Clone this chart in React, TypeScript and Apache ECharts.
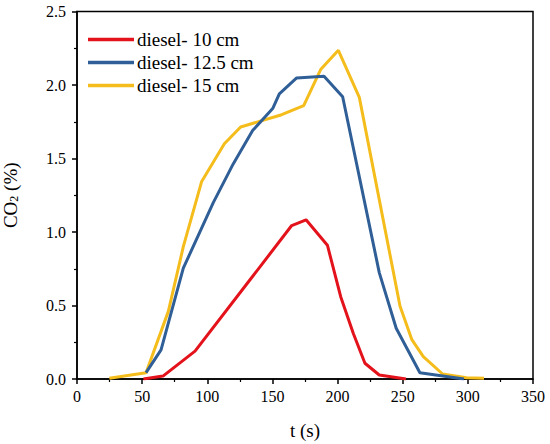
import React, { useEffect, useRef } from "react";
import * as echarts from "echarts";

const seriesNames = ["diesel- 10 cm", "diesel- 12.5 cm", "diesel- 15 cm"];
const seriesColors = ["#E3121B", "#2F5F96", "#F4BD1C"];

// [t (s), CO2 (%)]
const diesel10: [number, number][] = [
  [51, 0.0], [66, 0.02], [90.6, 0.19], [132.8, 0.675], [164.8, 1.044],
  [175.8, 1.083], [192.2, 0.91], [202.4, 0.56], [212.1, 0.31],
  [221, 0.107], [232, 0.027], [252.5, 0.0],
];
const diesel125: [number, number][] = [
  [53, 0.043], [64.5, 0.198], [81.6, 0.754], [104.6, 1.2], [120, 1.465],
  [134.8, 1.69], [150.2, 1.84], [155.3, 1.94], [168.6, 2.048],
  [189.6, 2.06], [203.9, 1.92], [232, 0.724], [245, 0.345],
  [263.2, 0.043], [297, 0.0],
];
const diesel15: [number, number][] = [
  [24.8, 0.005], [53, 0.043], [70.1, 0.46], [81.6, 0.9], [95.7, 1.344],
  [113.1, 1.6], [125.6, 1.714], [157.1, 1.798], [174, 1.86],
  [187, 2.105], [200.6, 2.236], [216.7, 1.916], [247.9, 0.497],
  [256.9, 0.27], [265.8, 0.152], [280.6, 0.034], [299, 0.009],
  [312.4, 0.005],
];
const seriesData = [diesel10, diesel125, diesel15];

const xTicks = { min: 0, max: 350, interval: 50 };
const yTicks = { min: 0, max: 2.5, interval: 0.5 };

const FONT = "Liberation Serif";

export default function App() {
  const ref = useRef<HTMLDivElement>(null);
  useEffect(() => {
    if (!ref.current) return;
    const chart = echarts.init(ref.current, undefined, { renderer: "svg" });
    const axisCommon = {
      axisLine: { show: true, lineStyle: { color: "#000", width: 1.5 } },
      axisTick: { show: true, inside: false, length: 5, lineStyle: { color: "#000", width: 1.5 } },
      minorTick: { show: true, splitNumber: 2, length: 3, lineStyle: { color: "#000", width: 1.2 } },
      splitLine: { show: false },
      axisLabel: { color: "#000", fontFamily: FONT, fontSize: 16 },
      nameTextStyle: { color: "#000", fontFamily: FONT, fontSize: 19 },
    };
    chart.setOption({
      animation: false,
      backgroundColor: "#fff",
      textStyle: { fontFamily: FONT },
      grid: {
        left: 77,
        right: 17,
        top: 11.5,
        bottom: 65,
        show: true,
        borderColor: "#000",
        borderWidth: 1.5,
        containLabel: false,
        outerBoundsMode: "none",
      },
      legend: {
        show: true,
        left: 83,
        top: 25,
        orient: "vertical",
        icon: "rect",
        itemWidth: 46,
        itemHeight: 3.5,
        itemGap: 4,
        textStyle: { color: "#000", fontFamily: FONT, fontSize: 19, padding: [0, 0, 0, -2] },
        data: seriesNames,
      },
      xAxis: {
        type: "value",
        ...axisCommon,
        min: xTicks.min,
        max: xTicks.max,
        interval: xTicks.interval,
        name: "t (s)",
        nameLocation: "middle",
        nameGap: 42,
        axisLabel: { ...axisCommon.axisLabel, margin: 9 },
      },
      yAxis: {
        type: "value",
        ...axisCommon,
        min: yTicks.min,
        max: yTicks.max,
        interval: yTicks.interval,
        name: "{a|CO}{b|2}{a| (%)}",
        nameLocation: "middle",
        nameRotate: 90,
        nameGap: 57,
        nameTextStyle: {
          color: "#000",
          fontFamily: FONT,
          fontSize: 19,
          rich: {
            a: { fontFamily: FONT, fontSize: 19, color: "#000" },
            b: { fontFamily: FONT, fontSize: 12, color: "#000", verticalAlign: "bottom", padding: [8, 0, 0, 0] },
          },
        },
        axisLabel: {
          ...axisCommon.axisLabel,
          margin: 11,
          formatter: (v: number) => v.toFixed(1),
        },
      },
      series: seriesData.map((d, i) => ({
        name: seriesNames[i],
        type: "line",
        data: d,
        showSymbol: false,
        symbol: "none",
        lineStyle: { color: seriesColors[i], width: 3 },
        itemStyle: { color: seriesColors[i] },
        z: 3 - i,
      })),
    });
    return () => chart.dispose();
  }, []);
  return (
    <div
      ref={ref}
      style={{ position: "absolute", left: 0, top: 0, width: 550, height: 444 }}
    />
  );
}
